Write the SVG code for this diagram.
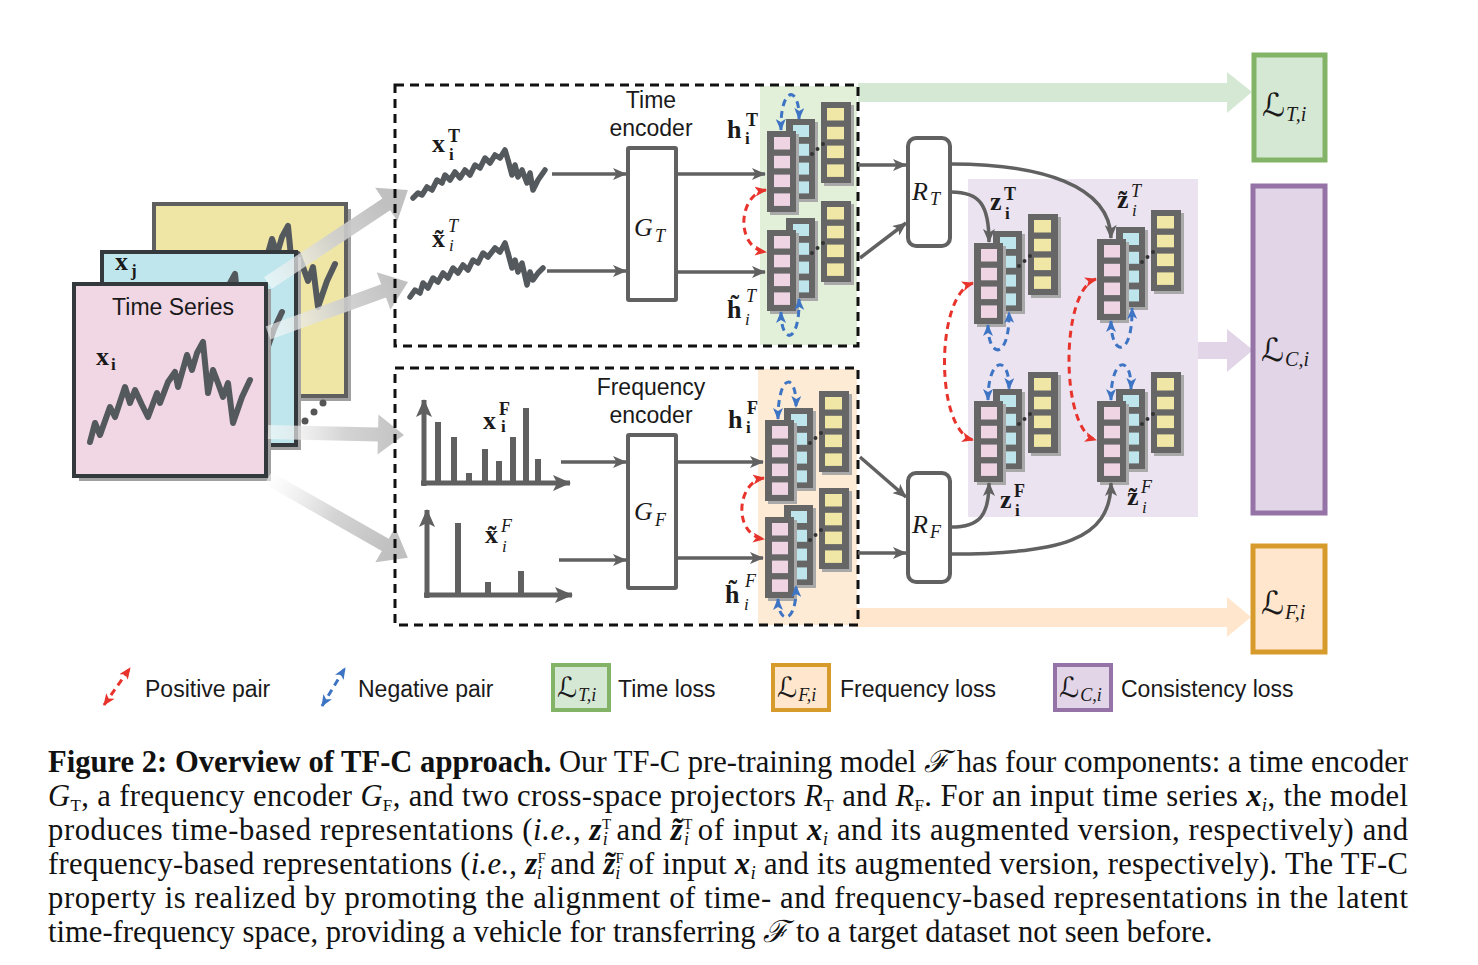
<svg xmlns="http://www.w3.org/2000/svg" width="1478" height="965" viewBox="0 0 1478 965">
<style>
.lbl{font-family:"Liberation Sans",Arial,sans-serif;font-size:23px;fill:#1a1a1a}
.m{font-family:"Liberation Serif","Times New Roman",serif;fill:#1a1a1a}
.b{font-weight:bold}
.it{font-style:italic}
.cal{font-family:"DejaVu Serif","DejaVu Sans",serif;font-style:italic}
.arr{stroke:#616161;stroke-width:3.5;fill:none;marker-end:url(#ah)}
.rbox{fill:#fff;stroke:#616161;stroke-width:4}
.pos{stroke:#e8332c;stroke-width:3;fill:none;stroke-dasharray:7 5;marker-start:url(#rh);marker-end:url(#rh)}
.neg{stroke:#3e74c4;stroke-width:3;fill:none;stroke-dasharray:7 5;marker-start:url(#bh);marker-end:url(#bh)}
.dash{fill:none;stroke:#111;stroke-width:3;stroke-dasharray:9 6}
.sq{fill:none;stroke:#54595d;stroke-width:6;stroke-linejoin:round;stroke-linecap:round}
.ax{stroke:#606060;stroke-width:5;fill:none;marker-end:url(#axh)}
.bar{stroke:#606060;stroke-width:6}
.cap{font-family:"Liberation Serif","Times New Roman",serif;font-size:30.6px;fill:#111}
.sh{fill:#a9a9a9}
.col{fill:#666666}
.pk{fill:#efd5e3}
.bl{fill:#bfe5ec}
.yl{fill:#f0e6a5}
</style>
<defs>
<marker id="ah" viewBox="0 0 14 12" refX="13" refY="6" markerWidth="14" markerHeight="12" markerUnits="userSpaceOnUse" orient="auto"><path d="M0,0 L14,6 L0,12 L3.5,6 z" fill="#616161"/></marker>
<marker id="axh" viewBox="0 0 18 16" refX="17" refY="8" markerWidth="18" markerHeight="16" markerUnits="userSpaceOnUse" orient="auto"><path d="M0,0 L18,8 L0,16 L4,8 z" fill="#606060"/></marker>
<marker id="rh" viewBox="0 0 12 10" refX="11" refY="5" markerWidth="12" markerHeight="10" markerUnits="userSpaceOnUse" orient="auto-start-reverse"><path d="M0,0 L12,5 L0,10 L3,5 z" fill="#e8332c"/></marker>
<marker id="bh" viewBox="0 0 12 10" refX="11" refY="5" markerWidth="12" markerHeight="10" markerUnits="userSpaceOnUse" orient="auto-start-reverse"><path d="M0,0 L12,5 L0,10 L3,5 z" fill="#3e74c4"/></marker>
<linearGradient id="fade" gradientUnits="userSpaceOnUse" x1="0" y1="0" x2="140" y2="0">
<stop offset="0" stop-color="#ffffff" stop-opacity="0.55"/>
<stop offset="0.55" stop-color="#cfcfcf" stop-opacity="0.9"/>
<stop offset="1" stop-color="#bdbdbd" stop-opacity="0.95"/>
</linearGradient>
<polyline id="sq" class="sq" points="90,442 95,423 100,435 110,407 115,417 125,387 130,403 135,390 142,405 148,417 157,393 160,403 168,382 175,372 178,387 187,355 192,370 197,353 203,342 208,393 213,370 218,383 223,397 228,383 233,423 242,397 250,380"/>
<g id="stk">
<rect class="sh" x="57" y="-26" width="30" height="81"/>
<rect class="col" x="54" y="-29" width="30" height="81"/>
<rect class="yl" x="60" y="-23" width="17" height="12.5"/>
<rect class="yl" x="60" y="-4.2" width="17" height="12.5"/>
<rect class="yl" x="60" y="14.6" width="17" height="12.5"/>
<rect class="yl" x="60" y="33.4" width="17" height="12.5"/>
<rect class="sh" x="22" y="-9" width="29" height="80"/>
<rect class="col" x="19" y="-12" width="29" height="80"/>
<rect class="bl" x="26" y="-6" width="16" height="12"/>
<rect class="bl" x="26" y="12.8" width="16" height="12"/>
<rect class="bl" x="26" y="31.6" width="16" height="12"/>
<rect class="bl" x="26" y="50.4" width="16" height="12"/>
<rect class="sh" x="3" y="3" width="29" height="81"/>
<rect class="col" x="0" y="0" width="29" height="81"/>
<rect class="pk" x="7" y="6" width="16" height="12.5"/>
<rect class="pk" x="7" y="24.8" width="16" height="12.5"/>
<rect class="pk" x="7" y="43.6" width="16" height="12.5"/>
<rect class="pk" x="7" y="62.4" width="16" height="12.5"/>
<circle cx="45" cy="23" r="2" fill="#333"/>
<circle cx="50.5" cy="18" r="2" fill="#333"/>
<circle cx="56" cy="13" r="2" fill="#333"/>
</g>
</defs>
<rect x="0" y="0" width="1478" height="965" fill="#ffffff"/>

<g id="input-time-series">
<rect x="159" y="209" width="192" height="192" fill="#a0a0a0"/>
<rect x="154" y="204" width="192" height="192" fill="#efe6a6" stroke="#5f5f5f" stroke-width="4"/>
<use href="#sq" transform="translate(85,-116)"/>
<rect x="107" y="257" width="194" height="193" fill="#a0a0a0"/>
<rect x="102" y="252" width="194" height="193" fill="#bfe6ec" stroke="#33393d" stroke-width="4"/>
<use href="#sq" transform="translate(32,-68)"/>
<text class="m b" x="115" y="270" font-size="26">x</text><text class="m b" x="131" y="276" font-size="17">j</text>
<rect x="79" y="289" width="192" height="192" fill="#a0a0a0"/>
<rect x="74" y="284" width="192" height="192" fill="#f1d6e4" stroke="#33393d" stroke-width="4"/>
<use href="#sq"/>
<text class="lbl" x="173" y="315" font-size="24" text-anchor="middle">Time Series</text>
<text class="m b" x="96" y="365" font-size="26">x</text><text class="m b" x="111" y="370" font-size="17">i</text>
<circle cx="323" cy="403" r="3.5" fill="#555"/>
<circle cx="314" cy="412" r="3.5" fill="#555"/>
<circle cx="305" cy="421" r="3.5" fill="#555"/>
</g>

<g id="regions">
<rect x="760" y="86" width="97" height="259" fill="#e2efd9"/>
<rect x="758" y="369" width="99" height="256" fill="#fdebd5"/>
<rect x="968" y="179" width="230" height="338" fill="#ebe3f0"/>
</g>

<g id="connectors">
<g transform="translate(268,283) rotate(-33.6)"><polygon points="0,-7 142,-7 142,-20 168,0 142,20 142,7 0,7" fill="url(#fade)"/></g>
<g transform="translate(268,333) rotate(-20)"><polygon points="0,-7 123,-7 123,-20 149,0 123,20 123,7 0,7" fill="url(#fade)"/></g>
<g transform="translate(268,432) rotate(1.3)"><polygon points="0,-7 110,-7 110,-20 136,0 110,20 110,7 0,7" fill="url(#fade)"/></g>
<g transform="translate(268,478) rotate(29.7)"><polygon points="0,-7 135,-7 135,-20 161,0 135,20 135,7 0,7" fill="url(#fade)"/></g>
<polygon points="858,83 1227,83 1227,72 1252,92 1227,113 1227,102 858,102" fill="#d5e8d4"/>
<polygon points="852,608 1227,608 1227,597 1251,617 1227,637 1227,627 852,627" fill="#ffe6cc"/>
<polygon points="1198,342 1227,342 1227,329 1253,350 1227,372 1227,359 1198,359" fill="#e1d5e7"/>
</g>

<g id="time-branch">
<rect class="dash" x="395" y="85" width="463" height="261"/>
<text class="lbl" x="651" y="108" text-anchor="middle">Time</text>
<text class="lbl" x="651" y="136" text-anchor="middle">encoder</text>
<polyline class="sq" style="stroke-width:5.5" points="413,198 418,193 422,195 427,187 432,190 437,180 442,183 445,175 450,180 455,172 460,178 465,170 470,175 475,165 480,168 485,158 490,163 495,155 500,158 505,150 508,160 512,175 515,165 518,177 522,170 527,183 530,173 533,190 538,180 545,170"/>
<polyline class="sq" style="stroke-width:5.5" points="410,297 415,290 420,293 423,283 428,288 433,278 438,282 443,273 448,278 453,268 458,273 463,265 468,270 473,260 478,263 483,253 488,257 495,248 500,252 505,243 508,253 512,268 515,260 518,272 522,263 527,285 530,272 533,280 538,273 543,268"/>
<text class="m b" x="432" y="152" font-size="26">x</text><text class="m b" x="448" y="142" font-size="18">T</text><text class="m b" x="449" y="160" font-size="17">i</text>
<text class="m b" x="432" y="247" font-size="26">x̃</text><text class="m it" x="448" y="232" font-size="18">T</text><text class="m it" x="449" y="251" font-size="17">i</text>
</g>
<g id="GT"><rect class="rbox" x="628" y="148" width="48" height="152" rx="1"/><text class="m it" x="634" y="236" font-size="26">G</text><text class="m it" x="655" y="242" font-size="18">T</text></g>

<g id="freq-branch">
<rect class="dash" x="395" y="368" width="463" height="257"/>
<text class="lbl" x="651" y="395" text-anchor="middle">Frequency</text>
<text class="lbl" x="651" y="423" text-anchor="middle">encoder</text>
<line class="ax" x1="424" y1="486" x2="424" y2="400"/>
<line class="ax" x1="421" y1="483" x2="570" y2="483"/>
<line class="bar" x1="438" y1="483" x2="438" y2="422"/>
<line class="bar" x1="454" y1="483" x2="454" y2="437"/>
<line class="bar" x1="469" y1="483" x2="469" y2="473"/>
<line class="bar" x1="485" y1="483" x2="485" y2="449"/>
<line class="bar" x1="499" y1="483" x2="499" y2="461"/>
<line class="bar" x1="513" y1="483" x2="513" y2="437"/>
<line class="bar" x1="526" y1="483" x2="526" y2="408"/>
<line class="bar" x1="538" y1="483" x2="538" y2="459"/>
<line class="ax" x1="427" y1="598" x2="427" y2="510"/>
<line class="ax" x1="424" y1="595" x2="572" y2="595"/>
<line class="bar" x1="458" y1="595" x2="458" y2="523"/>
<line class="bar" x1="488" y1="595" x2="488" y2="582"/>
<line class="bar" x1="521" y1="595" x2="521" y2="571"/>
<text class="m b" x="483" y="429" font-size="26">x</text><text class="m b" x="499" y="415" font-size="18">F</text><text class="m b" x="501" y="432" font-size="17">i</text>
<text class="m b" x="485" y="543" font-size="26">x̃</text><text class="m it" x="501" y="532" font-size="18">F</text><text class="m it" x="502" y="552" font-size="17">i</text>
</g>
<g id="GF"><rect class="rbox" x="628" y="435" width="48" height="153" rx="1"/><text class="m it" x="634" y="520" font-size="26">G</text><text class="m it" x="655" y="526" font-size="18">F</text></g>

<g id="h-time">
<use href="#stk" x="767" y="131"/>
<use href="#stk" x="767" y="230"/>
<text class="m b" x="727" y="138" font-size="26">h</text><text class="m b" x="746" y="126" font-size="18">T</text><text class="m b" x="745" y="144" font-size="17">i</text>
<text class="m b" x="727" y="318" font-size="26">h̃</text><text class="m it" x="746" y="302" font-size="18">T</text><text class="m it" x="745" y="325" font-size="17">i</text>
</g>
<g id="h-freq">
<use href="#stk" x="765" y="420"/>
<use href="#stk" x="765" y="517"/>
<text class="m b" x="728" y="428" font-size="26">h</text><text class="m b" x="747" y="414" font-size="18">F</text><text class="m b" x="746" y="433" font-size="17">i</text>
<text class="m b" x="725" y="603" font-size="26">h̃</text><text class="m it" x="745" y="587" font-size="18">F</text><text class="m it" x="744" y="610" font-size="17">i</text>
</g>

<g id="RT"><rect class="rbox" x="908" y="138" width="42" height="108" rx="8"/><text class="m it" x="912" y="200" font-size="26">R</text><text class="m it" x="930" y="205" font-size="18">T</text></g>
<g id="RF"><rect class="rbox" x="908" y="473" width="42" height="109" rx="8"/><text class="m it" x="912" y="533" font-size="26">R</text><text class="m it" x="930" y="538" font-size="18">F</text></g>

<g id="z-reps">
<use href="#stk" x="974" y="243"/>
<use href="#stk" x="1097" y="239"/>
<use href="#stk" x="974" y="401"/>
<use href="#stk" x="1097" y="401"/>
<text class="m b" x="990" y="210" font-size="26">z</text><text class="m b" x="1004" y="200" font-size="18">T</text><text class="m b" x="1005" y="219" font-size="17">i</text>
<text class="m b" x="1117" y="208" font-size="26">z̃</text><text class="m it" x="1131" y="197" font-size="18">T</text><text class="m it" x="1132" y="216" font-size="17">i</text>
<text class="m b" x="1000" y="508" font-size="26">z</text><text class="m b" x="1014" y="497" font-size="18">F</text><text class="m b" x="1015" y="516" font-size="17">i</text>
<text class="m b" x="1127" y="505" font-size="26">z̃</text><text class="m it" x="1141" y="493" font-size="18">F</text><text class="m it" x="1142" y="513" font-size="17">i</text>
</g>

<g id="flow-connectors">
<path class="arr" d="M552,174 L626,174"/>
<path class="arr" d="M547,271 L626,271"/>
<path class="arr" d="M677,174 L765,174"/>
<path class="arr" d="M677,272 L765,272"/>
<path class="arr" d="M561,462 L626,462"/>
<path class="arr" d="M559,560 L626,560"/>
<path class="arr" d="M677,462 L763,462"/>
<path class="arr" d="M677,558 L763,558"/>
<path class="arr" d="M858,165 L906,165"/>
<path class="arr" d="M860,258 L906,223"/>
<path class="arr" d="M860,457 L906,497"/>
<path class="arr" d="M858,553 L906,553"/>
<path class="arr" d="M951,164 C1040,164 1110,185 1111,238"/>
<path class="arr" d="M951,192 C980,192 989,205 989,242"/>
<path class="arr" d="M951,527 C980,527 989,515 989,483"/>
<path class="arr" d="M951,554 C1060,554 1111,540 1111,483"/>
<path class="pos" d="M766,190 C738,194 735,248 766,252"/>
<path class="pos" d="M764,478 C736,482 733,535 764,539"/>
<path class="pos" d="M973,283 C935,295 935,430 973,440"/>
<path class="pos" d="M1096,279 C1060,290 1060,430 1096,440"/>
<path class="neg" d="M781,130 C780,85 800,85 799,119"/>
<path class="neg" d="M781,312 C781,345 800,345 799,299"/>
<path class="neg" d="M778,419 C778,372 797,372 796,407"/>
<path class="neg" d="M778,599 C778,625 797,625 796,586"/>
<path class="neg" d="M988,325 C988,360 1010,360 1009,312"/>
<path class="neg" d="M988,400 C988,355 1010,355 1009,389"/>
<path class="neg" d="M1111,321 C1111,358 1133,358 1132,308"/>
<path class="neg" d="M1111,400 C1111,355 1132,355 1131,389"/>
</g>

<g id="loss-T"><rect x="1254" y="55" width="71" height="105" fill="#d5e8d4" stroke="#82b366" stroke-width="5"/><text class="m" x="1262" y="116"><tspan class="cal" font-size="32">ℒ</tspan><tspan class="it" font-size="20" dx="1" dy="5">T,i</tspan></text></g>
<g id="loss-C"><rect x="1253" y="186" width="72" height="327" fill="#e1d5e7" stroke="#9673a6" stroke-width="5"/><text class="m" x="1261" y="361"><tspan class="cal" font-size="32">ℒ</tspan><tspan class="it" font-size="20" dx="1" dy="5">C,i</tspan></text></g>
<g id="loss-F"><rect x="1253" y="546" width="72" height="106" fill="#ffe6cc" stroke="#d79b2c" stroke-width="5"/><text class="m" x="1261" y="614"><tspan class="cal" font-size="32">ℒ</tspan><tspan class="it" font-size="20" dx="1" dy="5">F,i</tspan></text></g>

<g id="legend">
<path class="pos" d="M104,705 L130,668"/>
<text class="lbl" x="145" y="697">Positive pair</text>
<path class="neg" d="M322,706 L345,668"/>
<text class="lbl" x="358" y="697">Negative pair</text>
<rect x="553" y="665" width="56" height="45" fill="#d5e8d4" stroke="#82b366" stroke-width="4"/>
<text class="m" x="557" y="697"><tspan class="cal" font-size="28">ℒ</tspan><tspan class="it" font-size="18" dx="1" dy="4">T,i</tspan></text>
<text class="lbl" x="618" y="697">Time loss</text>
<rect x="773" y="665" width="56" height="45" fill="#ffe6cc" stroke="#d79b2c" stroke-width="4"/>
<text class="m" x="777" y="697"><tspan class="cal" font-size="28">ℒ</tspan><tspan class="it" font-size="18" dx="1" dy="4">F,i</tspan></text>
<text class="lbl" x="840" y="697">Frequency loss</text>
<rect x="1055" y="665" width="56" height="45" fill="#e1d5e7" stroke="#9673a6" stroke-width="4"/>
<text class="m" x="1059" y="697"><tspan class="cal" font-size="28">ℒ</tspan><tspan class="it" font-size="18" dx="1" dy="4">C,i</tspan></text>
<text class="lbl" x="1121" y="697">Consistency loss</text>
</g>

<g id="caption">
<text class="cap" x="48" y="772" textLength="1360" lengthAdjust="spacing"><tspan font-weight="bold">Figure 2: Overview of TF-C approach.</tspan> Our TF-C pre-training model <tspan font-style="italic">ℱ</tspan> has four components: a time encoder</text>
<text class="cap" x="48" y="806" textLength="1360" lengthAdjust="spacing"><tspan font-style="italic">G</tspan><tspan font-size="17" dy="5">T</tspan><tspan dy="-5">, a frequency encoder </tspan><tspan font-style="italic">G</tspan><tspan font-size="17" dy="5">F</tspan><tspan dy="-5">, and two cross-space projectors </tspan><tspan font-style="italic">R</tspan><tspan font-size="17" dy="5">T</tspan><tspan dy="-5"> and </tspan><tspan font-style="italic">R</tspan><tspan font-size="17" dy="5">F</tspan><tspan dy="-5">. For an input time series </tspan><tspan font-style="italic" font-weight="bold">x</tspan><tspan font-size="19" font-style="italic" dy="5">i</tspan><tspan dy="-5">, the model</tspan></text>
<text class="cap" x="48" y="840" textLength="1360" lengthAdjust="spacing">produces time-based representations (<tspan font-style="italic">i.e.</tspan>, <tspan font-style="italic" font-weight="bold">z</tspan><tspan font-size="15" dy="-11">T</tspan><tspan font-size="18" font-style="italic" dx="-9" dy="16">i</tspan><tspan dy="-5"> and </tspan><tspan font-style="italic" font-weight="bold">z̃</tspan><tspan font-size="15" dy="-11">T</tspan><tspan font-size="18" font-style="italic" dx="-9" dy="16">i</tspan><tspan dy="-5"> of input </tspan><tspan font-style="italic" font-weight="bold">x</tspan><tspan font-size="19" font-style="italic" dy="5">i</tspan><tspan dy="-5"> and its augmented version, respectively) and</tspan></text>
<text class="cap" x="48" y="874" textLength="1360" lengthAdjust="spacing">frequency-based representations (<tspan font-style="italic">i.e.</tspan>, <tspan font-style="italic" font-weight="bold">z</tspan><tspan font-size="15" dy="-11">F</tspan><tspan font-size="18" font-style="italic" dx="-9" dy="16">i</tspan><tspan dy="-5"> and </tspan><tspan font-style="italic" font-weight="bold">z̃</tspan><tspan font-size="15" dy="-11">F</tspan><tspan font-size="18" font-style="italic" dx="-9" dy="16">i</tspan><tspan dy="-5"> of input </tspan><tspan font-style="italic" font-weight="bold">x</tspan><tspan font-size="19" font-style="italic" dy="5">i</tspan><tspan dy="-5"> and its augmented version, respectively). The TF-C</tspan></text>
<text class="cap" x="48" y="908" textLength="1360" lengthAdjust="spacing">property is realized by promoting the alignment of time- and frequency-based representations in the latent</text>
<text class="cap" x="48" y="942">time-frequency space, providing a vehicle for transferring <tspan font-style="italic">ℱ</tspan> to a target dataset not seen before.</text>
</g>
</svg>
